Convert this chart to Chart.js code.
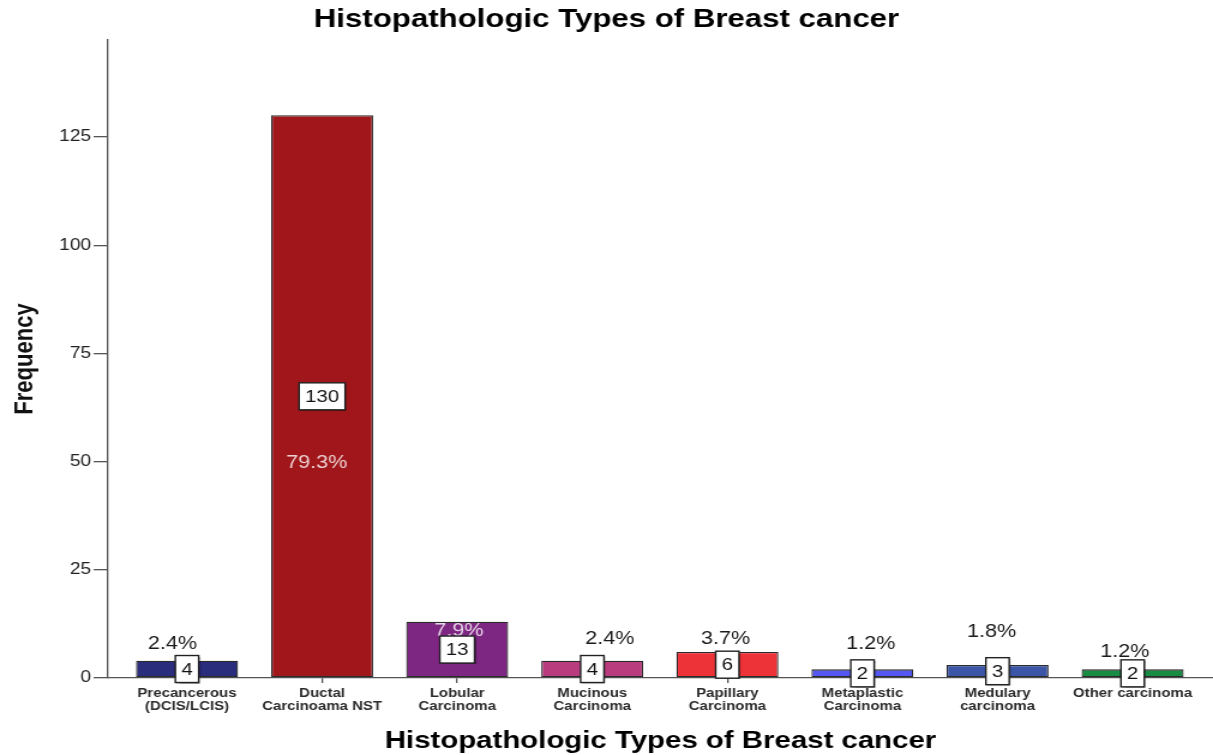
<!DOCTYPE html>
<html>
<head>
<meta charset="utf-8">
<title>Histopathologic Types of Breast cancer</title>
<script src="https://cdn.jsdelivr.net/npm/chart.js@4.4.1/dist/chart.umd.min.js"></script>
<style>
  html, body { margin: 0; padding: 0; background: #fff; }
</style>
</head>
<body>
<!-- drawn at 1011px wide and stretched to 1213px, like the exported SPSS figure -->
<canvas id="chart" width="1011" height="755" style="display:block;width:1213px;height:755px"></canvas>
<script>
const FONT = "'Liberation Sans', Arial, sans-serif";

// ---- data ----
const typeLabels = [
    ['Precancerous', '(DCIS/LCIS)'],
    ['Ductal', 'Carcinoama NST'],
    ['Lobular', 'Carcinoma'],
    ['Mucinous', 'Carcinoma'],
    ['Papillary', 'Carcinoma'],
    ['Metaplastic', 'Carcinoma'],
    ['Medulary', 'carcinoma'],
    'Other carcinoma'
];
const frequency = [4, 130, 13, 4, 6, 2, 3, 2];
const percentLabels = ['2.4%', '79.3%', '7.9%', '2.4%', '3.7%', '1.2%', '1.8%', '1.2%'];
const yTicks = [0, 25, 50, 75, 100, 125];
const yMax = 147.4;

// ---- styling ----
const barColors = ['#2a2c7c', '#a0161a', '#7d2682', '#b93d7e', '#ee3338', '#5457f2', '#3b56a6', '#198c44'];
// where each percentage sits, relative to the top centre of its bar (px); positive dy = inside the bar
const pctOffset = [[-12, -16.5], [-4.5, 347.5], [1.5, 9.5], [14.5, -21.5], [-1.5, -13], [7, -25], [-5, -32.5], [-6.5, -17.5]];

// percentages, then the boxed counts at mid-height of each bar
const barLabels = {
    id: 'barLabels',
    afterDatasetsDraw(chart) {
        const ctx = chart.ctx;
        const bars = chart.getDatasetMeta(0).data;
        ctx.save();
        ctx.textAlign = 'center';
        ctx.textBaseline = 'middle';
        bars.forEach(function(bar, i) {
            const dx = pctOffset[i][0], dy = pctOffset[i][1];
            ctx.font = '18px ' + FONT;
            ctx.fillStyle = dy > 0 ? 'rgba(255,255,255,0.8)' : '#1a1a1a';
            ctx.fillText(percentLabels[i], bar.x + dx, bar.y + dy);
        });
        bars.forEach(function(bar, i) {
            const txt = String(frequency[i]);
            ctx.font = '17px ' + FONT;
            const w = ctx.measureText(txt).width + 10;
            const h = 27;
            const cy = (bar.y + bar.base) / 2;
            ctx.save();
            ctx.shadowColor = 'rgba(0,0,0,0.35)';
            ctx.shadowOffsetX = 1;
            ctx.shadowOffsetY = 1;
            ctx.shadowBlur = 1;
            ctx.fillStyle = '#fff';
            ctx.fillRect(bar.x - w / 2, cy - h / 2, w, h);
            ctx.restore();
            ctx.strokeStyle = '#222';
            ctx.lineWidth = 1.4;
            ctx.strokeRect(bar.x - w / 2, cy - h / 2, w, h);
            ctx.fillStyle = '#111';
            ctx.fillText(txt, bar.x, cy + 1);
        });
        ctx.restore();
    }
};

new Chart(document.getElementById('chart'), {
    type: 'bar',
    data: {
        datasets: [{
            data: frequency.map(function(v, i) { return { x: i, y: v }; }),
            backgroundColor: barColors,
            borderColor: '#2a2a2a',
            borderWidth: 1.3,
            borderSkipped: false,
            barPercentage: 0.755,
            categoryPercentage: 1
        }]
    },
    options: {
        responsive: false,
        animation: false,
        devicePixelRatio: 1,
        layout: { padding: 0 },
        plugins: {
            legend: { display: false },
            tooltip: { enabled: false },
            title: {
                display: true,
                text: 'Histopathologic Types of Breast cancer',
                color: '#000',
                font: { family: FONT, size: 26, weight: 'bold', lineHeight: 1 },
                padding: { top: 7, bottom: 7 }
            }
        },
        scales: {
            x: {
                type: 'linear',
                offset: false,
                bounds: 'data',
                min: -0.585,
                max: 7.595,
                afterBuildTicks: function(s) { s.ticks = typeLabels.map(function(_, i) { return { value: i }; }); },
                afterFit: function(s) { s.height = 77; },
                grid: { offset: false, drawOnChartArea: false, tickLength: 5, color: '#555', lineWidth: 1.3 },
                border: { color: '#555', width: 1.3 },
                ticks: {
                    autoSkip: false,
                    maxRotation: 0,
                    padding: 4,
                    color: '#2b2b2b',
                    font: { family: FONT, size: 12.5, weight: 'bold', lineHeight: 1.05 },
                    callback: function(v) { return typeLabels[v]; }
                },
                title: {
                    display: true,
                    text: 'Histopathologic Types of Breast cancer',
                    color: '#000',
                    font: { family: FONT, size: 24.5, weight: 'bold', lineHeight: 1 },
                    padding: { top: 0, bottom: 2 }
                }
            },
            y: {
                min: 0,
                max: yMax,
                afterBuildTicks: function(s) { s.ticks = yTicks.map(function(v) { return { value: v }; }); },
                afterFit: function(s) { s.width = 90; },
                grid: { drawOnChartArea: false, tickLength: 12, color: '#555', lineWidth: 1.3 },
                border: { color: '#555', width: 1.3 },
                ticks: { padding: 2, color: '#222', font: { family: FONT, size: 16 } },
                title: {
                    display: true,
                    text: 'Frequency',
                    color: '#111',
                    font: { family: FONT, size: 22, weight: 'bold' },
                    padding: { top: 8, bottom: 0 }
                }
            }
        }
    },
    plugins: [barLabels]
});
</script>
</body>
</html>
